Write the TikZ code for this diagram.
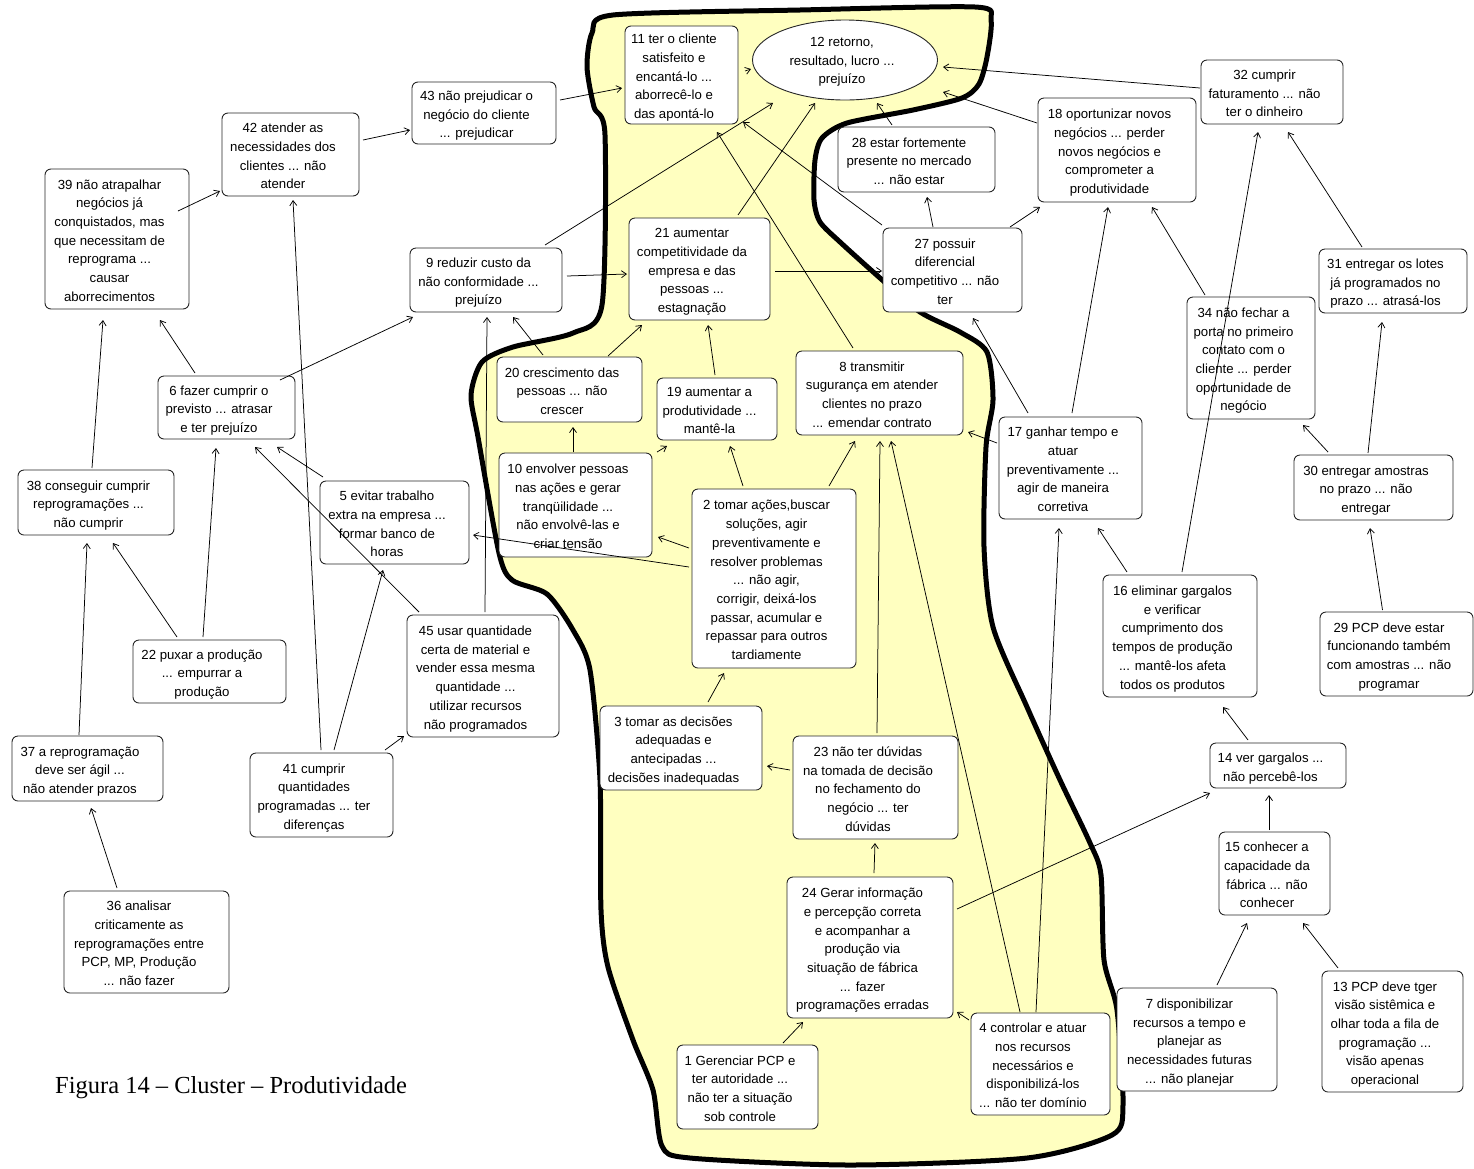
\documentclass[tikz,border=0pt]{standalone}
\usepackage{fontspec}
\setmainfont{Liberation Serif}
\newfontfamily\cardfont{Liberation Sans}
\usetikzlibrary{arrows.meta,shapes.geometric}

\definecolor{blobyellow}{RGB}{255,255,192}

\tikzset{
  card/.style={draw=black!85, line width=0.9pt, rounded corners=6pt, fill=white,
    inner sep=0pt, align=center, font=\cardfont\fontsize{13.2}{18.7}\selectfont},
  lk/.style={line width=0.75pt, -{Straight Barb[length=5pt,width=7pt]}},
  blob/.style={draw=black, line width=5pt, fill=blobyellow, line join=round},
}

% card text: centred lines with a little extra room on the right, set slightly low
\newcommand\cardtext[1]{\raisebox{-2.5pt}[\height][\depth]{\begin{tabular}{@{}c@{\hspace{15pt}}}#1\end{tabular}}}
% card: name, centre x, centre y, width, height, text
\newcommand\cardat[6]{\node[card, minimum width=#4pt, minimum height=#5pt] (#1) at (#2,#3) {\cardtext{#6}};}
% link: from node, dx, dy, to node, dx, dy (offsets from the node centres)
\newcommand\lnk[6]{\draw[lk] ([shift={(#2,#3)}]#1.center) -- ([shift={(#5,#6)}]#4.center);}

\begin{document}
\begin{tikzpicture}[x=1pt,y=-1pt]
\useasboundingbox (0,0) rectangle (1474,1168);

% the yellow cluster region
\draw[blob] plot[smooth cycle, tension=0.45] coordinates {
  (613,15) (800,10) (975,7) (991,20) (987,57) (979,84) (962,98) (913,110)
  (847,123) (822,138) (815,160) (814,200) (820,222) (840,242) (880,278)
  (920,312) (960,332) (987,352) (993,400) (986,447) (984,547) (993,627)
  (1027,707) (1060,780) (1090,843) (1101,875) (1104,960) (1117,1010)
  (1123,1105) (1112,1135) (1027,1158) (850,1165) (690,1158) (662,1146)
  (653,1090) (633,1040) (608,967) (601,910) (600,780) (590,670) (573,630)
  (547,594) (512,580) (499,553) (478,437) (471,395) (482,362) (513,347)
  (573,333) (602,305) (605,135) (594,107) (587,67) (592,33)
};

% ---- cards ----
\cardat{n11}{681.5}{75}{113}{98}{11 ter o cliente\\satisfeito e\\encantá-lo ...\\aborrecê-lo e\\das apontá-lo}
\node[card, ellipse, sharp corners, minimum width=185pt, minimum height=80pt] (n12) at (845,60) {\raisebox{-1.5pt}[\height][\depth]{\begin{tabular}{@{}c@{\hspace{6pt}}}12 retorno,\\resultado, lucro ...\\prejuízo\end{tabular}}};
\cardat{n43}{484}{113}{144}{62}{43 não prejudicar o\\negócio do cliente\\... prejudicar}
\cardat{n42}{290.5}{154.5}{137}{83}{42 atender as\\necessidades dos\\clientes ... não\\atender}
\cardat{n39}{117}{239}{144}{140}{39 não atrapalhar\\negócios já\\conquistados, mas\\que necessitam de\\reprograma ...\\causar\\aborrecimentos}
\cardat{n9}{486}{280}{152}{64}{9 reduzir custo da\\não conformidade ...\\prejuízo}
\cardat{n21}{699.5}{269}{141}{102}{21 aumentar\\competitividade da\\empresa e das\\pessoas ...\\estagnação}
\cardat{n28}{916.5}{159.5}{157}{65}{28 estar fortemente\\presente no mercado\\... não estar}
\cardat{n18}{1117}{150}{158}{104}{18 oportunizar novos\\negócios ... perder\\novos negócios e\\comprometer a\\produtividade}
\cardat{n32}{1272}{92}{142}{64}{32 cumprir\\faturamento ... não\\ter o dinheiro}
\cardat{n27}{952.5}{270}{139}{84}{27 possuir\\diferencial\\competitivo ... não\\ter}
\cardat{n31}{1393}{281}{148}{64}{31 entregar os lotes\\já programados no\\prazo ... atrasá-los}
\cardat{n34}{1251}{358}{128}{122}{34 não fechar a\\porta no primeiro\\contato com o\\cliente ... perder\\oportunidade de\\negócio}
\cardat{n20}{569.5}{389.5}{145}{65}{20 crescimento das\\pessoas ... não\\crescer}
\cardat{n19}{717}{409}{120}{62}{19 aumentar a\\produtividade ...\\mantê-la}
\cardat{n8}{879.5}{393}{167}{84}{8 transmitir\\sugurança em atender\\clientes no prazo\\... emendar contrato}
\cardat{n6}{226.5}{407.5}{137}{63}{6 fazer cumprir o\\previsto ... atrasar\\e ter prejuízo}
\cardat{n17}{1070.5}{468}{143}{102}{17 ganhar tempo e\\atuar\\preventivamente ...\\agir de maneira\\corretiva}
\cardat{n30}{1373.5}{487.5}{159}{65}{30 entregar amostras\\no prazo ... não\\entregar}
\cardat{n38}{96}{502.5}{156}{65}{38 conseguir cumprir\\reprogramações ...\\não cumprir}
\cardat{n5}{394.5}{522.5}{149}{83}{5 evitar trabalho\\extra na empresa ...\\formar banco de\\horas}
\cardat{n10}{575.5}{505}{153}{104}{10 envolver pessoas\\nas ações e gerar\\tranqüilidade ...\\não envolvê-las e\\criar tensão}
\cardat{n2}{774}{578.5}{164}{179}{2 tomar ações,buscar\\soluções, agir\\preventivamente e\\resolver problemas\\... não agir,\\corrigir, deixá-los\\passar, acumular e\\repassar para outros\\tardiamente}
\cardat{n22}{209.5}{671.5}{153}{63}{22 puxar a produção\\... empurrar a\\produção}
\cardat{n45}{483}{676}{152}{122}{45 usar quantidade\\certa de material e\\vender essa mesma\\quantidade ...\\utilizar recursos\\não programados}
\cardat{n16}{1180}{636}{154}{122}{16 eliminar gargalos\\e verificar\\cumprimento dos\\tempos de produção\\... mantê-los afeta\\todos os produtos}
\cardat{n29}{1396.5}{654}{153}{84}{29 PCP deve estar\\funcionando também\\com amostras ... não\\programar}
\cardat{n3}{681}{748}{162}{84}{3 tomar as decisões\\adequadas e\\antecipadas ...\\decisões inadequadas}
\cardat{n23}{875.5}{787.5}{165}{103}{23 não ter dúvidas\\na tomada de decisão\\no fechamento do\\negócio ... ter\\dúvidas}
\cardat{n37}{87.5}{768.5}{151}{65}{37 a reprogramação\\deve ser ágil ...\\não atender prazos}
\cardat{n41}{321.5}{795}{143}{84}{41 cumprir\\quantidades\\programadas ... ter\\diferenças}
\cardat{n14}{1278}{765.5}{136}{45}{14 ver gargalos ...\\não percebê-los}
\cardat{n15}{1274.5}{873.5}{111}{83}{15 conhecer a\\capacidade da\\fábrica ... não\\conhecer}
\cardat{n24}{870}{947.5}{166}{141}{24 Gerar informação\\e percepção correta\\e acompanhar a\\produção via\\situação de fábrica\\... fazer\\programações erradas}
\cardat{n36}{146.5}{942}{165}{102}{36 analisar\\criticamente as\\reprogramações entre\\PCP, MP, Produção\\... não fazer}
\cardat{n7}{1197}{1039.5}{160}{103}{7 disponibilizar\\recursos a tempo e\\planejar as\\necessidades futuras\\... não planejar}
\cardat{n13}{1392.5}{1031.5}{141}{121}{13 PCP deve tger\\visão sistêmica e\\olhar toda a fila de\\programação ...\\visão apenas\\operacional}
\cardat{n4}{1040.5}{1064}{139}{102}{4 controlar e atuar\\nos recursos\\necessários e\\disponibilizá-los\\... não ter domínio}
\cardat{n1}{747.5}{1087}{141}{84}{1 Gerenciar PCP e\\ter autoridade ...\\não ter a situação\\sob controle}

% ---- links ----
\lnk{n42}{72.5}{-14.5}{n43}{-74}{17}
\lnk{n39}{61}{-28}{n42}{-70.5}{36.5}
\lnk{n41}{-0.5}{-45}{n42}{2.5}{45.5}
\lnk{n38}{-4}{-34.5}{n39}{-14}{81}
\lnk{n6}{-31.5}{-34.5}{n39}{43}{81}
\lnk{n6}{53.5}{-27.5}{n9}{-73}{37}
\lnk{n45}{2}{-64}{n9}{1}{37}
\lnk{n20}{-26.5}{-34.5}{n9}{27}{37}
\lnk{n43}{76}{-13}{n11}{-59.5}{13}
\lnk{n11}{63.5}{-4}{n12}{-94}{9}
\lnk{n9}{59}{-35}{n12}{-72}{43}
\lnk{n21}{38.5}{-54}{n12}{-30}{43}
\lnk{n8}{-26.5}{-45}{n11}{35.5}{57}
\lnk{n27}{-70.5}{-45}{n11}{61.5}{47}
\lnk{n28}{-24.5}{-34.5}{n12}{32}{43}
\lnk{n27}{-19.5}{-43}{n28}{10.5}{37.5}
\lnk{n9}{81}{-4}{n21}{-72.5}{5}
\lnk{n21}{75.5}{2}{n27}{-70.5}{1}
\lnk{n20}{38.5}{-33.5}{n21}{-57.5}{56}
\lnk{n19}{-2}{-34}{n21}{8.5}{56}
\lnk{n32}{-72}{-4}{n12}{98}{7}
\lnk{n18}{-80}{-27}{n12}{98}{32}
\lnk{n27}{57.5}{-43}{n18}{-77}{57}
\lnk{n17}{1.5}{-55}{n18}{-9}{57}
\lnk{n34}{-46}{-63}{n18}{35}{57}
\lnk{n16}{2}{-64}{n32}{-14}{40}
\lnk{n31}{-31}{-34}{n32}{16}{40}
\lnk{n30}{-5.5}{-34.5}{n31}{-11}{41}
\lnk{n17}{-42.5}{-55}{n27}{20.5}{48}
\lnk{n17}{-73.5}{-25}{n8}{88.5}{39}
\lnk{n30}{-45.5}{-35.5}{n34}{52}{67}
\lnk{n16}{-53}{-64}{n17}{27.5}{60}
\lnk{n4}{-4.5}{-52}{n17}{-11.5}{60}
\lnk{n29}{-14}{-44}{n30}{-3.5}{40.5}
\lnk{n14}{-30}{-25.5}{n16}{43}{71}
\lnk{n5}{-71.5}{-45.5}{n6}{50.5}{39.5}
\lnk{n45}{-64}{-64}{n6}{28.5}{39.5}
\lnk{n22}{-6.5}{-34.5}{n6}{-10.5}{40.5}
\lnk{n22}{-32.5}{-34.5}{n38}{17}{40.5}
\lnk{n37}{-8.5}{-33.5}{n38}{-9}{40.5}
\lnk{n41}{12.5}{-45}{n5}{-11.5}{47.5}
\lnk{n41}{63.5}{-45}{n45}{-79}{60}
\lnk{n2}{-85}{-11.5}{n5}{78.5}{12.5}
\lnk{n10}{-2.5}{-53}{n20}{3.5}{37.5}
\lnk{n10}{81.5}{-53}{n19}{-50}{37}
\lnk{n2}{-31}{-92.5}{n19}{13}{37}
\lnk{n2}{55}{-92.5}{n8}{-24.5}{48}
\lnk{n2}{-85}{-30.5}{n10}{82.5}{32}
\lnk{n3}{27}{-46}{n2}{-50}{94.5}
\lnk{n23}{-85.5}{-17.5}{n3}{86}{18}
\lnk{n23}{1.5}{-54.5}{n8}{0.5}{48}
\lnk{n4}{-20.5}{-52}{n8}{11.5}{48}
\lnk{n36}{-29.5}{-54}{n37}{3.5}{39.5}
\lnk{n24}{4}{-74.5}{n23}{-0.5}{55.5}
\lnk{n1}{35.5}{-44}{n24}{-67}{74.5}
\lnk{n4}{-71.5}{-44}{n24}{87}{64.5}
\lnk{n24}{87}{-38.5}{n14}{-68}{27.5}
\lnk{n15}{-5.5}{-43.5}{n14}{-9}{29.5}
\lnk{n7}{20}{-54.5}{n15}{-27.5}{49.5}
\lnk{n13}{-54.5}{-63.5}{n15}{28.5}{49.5}

% caption
\node[anchor=base west, inner sep=0pt, font=\fontsize{24.5}{29}\selectfont] (cap) at (55,1093) {Figura 14 – Cluster – Produtividade};
\end{tikzpicture}
\end{document}
